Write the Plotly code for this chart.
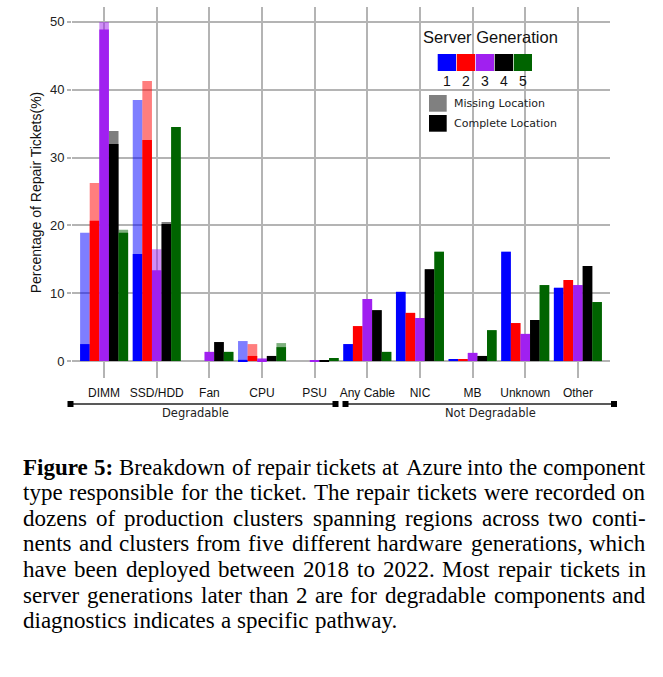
import plotly.graph_objects as go

# ---------------- data ----------------
categories = ["DIMM", "SSD/HDD", "Fan", "CPU", "PSU", "Any Cable", "NIC", "MB", "Unknown", "Other"]
generations = ["1", "2", "3", "4", "5"]
gen_colors = ["#0000ff", "#ff0000", "#a020f0", "#000000", "#006400"]

# total (missing + complete location) per category
gen1_total = [18.9, 38.5, 0.0, 2.95, 0.0, 2.5, 10.2, 0.3, 16.1, 10.8]
gen2_total = [26.25, 41.3, 0.0, 2.5, 0.0, 5.15, 7.1, 0.3, 5.6, 11.95]
gen3_total = [50.0, 16.5, 1.35, 0.45, 0.1, 9.15, 6.35, 1.2, 4.0, 11.2]
gen4_total = [33.9, 20.5, 2.8, 0.75, 0.15, 7.5, 13.55, 0.75, 6.05, 14.0]
gen5_total = [19.35, 34.5, 1.35, 2.65, 0.45, 1.35, 16.1, 4.55, 11.2, 8.7]

# complete location only
gen1_complete = [2.5, 15.8, 0.0, 0.18, 0.0, 2.5, 10.2, 0.3, 16.1, 10.8]
gen2_complete = [20.7, 32.6, 0.0, 0.75, 0.0, 5.15, 7.1, 0.3, 5.6, 11.95]
gen3_complete = [48.9, 13.4, 1.35, 0.28, 0.1, 9.15, 6.35, 1.2, 4.0, 11.2]
gen4_complete = [32.0, 20.2, 2.8, 0.75, 0.15, 7.5, 13.55, 0.75, 6.05, 14.0]
gen5_complete = [18.9, 34.5, 1.35, 2.05, 0.45, 1.35, 16.1, 4.55, 11.2, 8.7]

y_ticks = [0, 10, 20, 30, 40, 50]
y_title = "Percentage of Repair Tickets(%)"
legend_title = "Server Generation"
legend_missing = "Missing Location"
legend_complete = "Complete Location"
group_labels = ["Degradable", "Not Degradable"]

caption_lines = [
    [("Figure", True), ("5:", True), ("Breakdown", False), ("of", False), ("repair", False),
     ("tickets", False), ("at", False), ("Azure", False), ("into", False), ("the", False),
     ("component", False)],
    "type responsible for the ticket. The repair tickets were recorded on",
    "dozens of production clusters spanning regions across two conti-",
    "nents and clusters from five different hardware generations, which",
    "have been deployed between 2018 to 2022. Most repair tickets in",
    "server generations later than 2 are for degradable components and",
    "diagnostics indicates a specific pathway.",
]

totals = [gen1_total, gen2_total, gen3_total, gen4_total, gen5_total]
completes = [gen1_complete, gen2_complete, gen3_complete, gen4_complete, gen5_complete]

# ---------------- figure ----------------
W, H = 663, 677
L, R, T, B = 72, 610, 7, 378  # plot area in pixels

def px(x):
    return (x - L) / (R - L)

def py(y):
    return (B - y) / (B - T)

fig = go.Figure()
for g, col, tot in zip(generations, gen_colors, totals):
    fig.add_trace(go.Bar(x=categories, y=tot, name="Gen " + g + " missing", offsetgroup=g,
                         marker=dict(color=col, line=dict(width=0)), opacity=0.5))
for g, col, comp in zip(generations, gen_colors, completes):
    fig.add_trace(go.Bar(x=categories, y=comp, name="Gen " + g + " complete", offsetgroup=g,
                         marker=dict(color=col, line=dict(width=0)), opacity=1.0))

grid = "#b4b4b4"
fig.update_layout(
    width=W, height=H,
    margin=dict(l=L, r=W - R, t=T, b=H - B),
    paper_bgcolor="white", plot_bgcolor="white",
    barmode="group", bargap=0.088, bargroupgap=0,
    showlegend=False,
    font=dict(family="Liberation Sans, Arial, sans-serif", color="#222"),
)
fig.update_xaxes(type="category", range=[-0.61, 9.61], showgrid=True, gridcolor=grid, gridwidth=1.5,
                 ticks="", showline=False, zeroline=False, tickfont=dict(size=12, color="#111"),
                 ticklabelstandoff=6)
fig.update_yaxes(range=[-2.5, 52.2], tickvals=y_ticks, showgrid=True, gridcolor=grid, gridwidth=1.5,
                 ticks="outside", ticklen=4, tickcolor=grid, tickwidth=1.5, showline=False,
                 zeroline=False, tickfont=dict(size=13, color="#222"),
                 title=dict(text=y_title, font=dict(size=14, color="#111"), standoff=5))

shapes = []
annotations = []

# legend: server generation colour swatches
annotations.append(dict(x=px(490), y=py(37), xref="paper", yref="paper", text=legend_title,
                        showarrow=False, xanchor="center", yanchor="middle",
                        font=dict(size=16.5, color="#111", family="Liberation Sans, Arial")))
for i, (g, col) in enumerate(zip(generations, gen_colors)):
    x0 = 437.7 + 19 * i
    shapes.append(dict(type="rect", xref="paper", yref="paper", x0=px(x0), x1=px(x0 + 18.3),
                       y0=py(71), y1=py(54), fillcolor=col, line=dict(width=0)))
    annotations.append(dict(x=px(x0 + 9.2), y=py(81), xref="paper", yref="paper", text=g,
                            showarrow=False, xanchor="center", yanchor="middle",
                            font=dict(size=14, color="#111", family="Liberation Sans, Arial")))
# missing / complete swatches
for (y0, y1, col, txt) in [(95, 111.7, "#808080", legend_missing), (115, 131.7, "#000000", legend_complete)]:
    shapes.append(dict(type="rect", xref="paper", yref="paper", x0=px(429), x1=px(446.7),
                       y0=py(y1), y1=py(y0), fillcolor=col, line=dict(width=0)))
    annotations.append(dict(x=px(452), y=py((y0 + y1) / 2), xref="paper", yref="paper", text=txt,
                            showarrow=False, xanchor="left", yanchor="middle",
                            font=dict(size=11, color="#222", family="DejaVu Sans, Verdana")))

# group brackets
for (xa, xb, lab, xc) in [(70.5, 335.5, group_labels[0], 195), (345.5, 614, group_labels[1], 490)]:
    shapes.append(dict(type="line", xref="paper", yref="paper", x0=px(xa), x1=px(xb),
                       y0=py(404), y1=py(404), line=dict(color="#222", width=1.5)))
    for xs in (xa, xb):
        shapes.append(dict(type="rect", xref="paper", yref="paper", x0=px(xs - 3), x1=px(xs + 3),
                           y0=py(407), y1=py(401), fillcolor="#000", line=dict(width=0)))
    annotations.append(dict(x=px(xc), y=py(413), xref="paper", yref="paper", text=lab,
                            showarrow=False, xanchor="center", yanchor="middle",
                            font=dict(size=11.5, color="#222", family="DejaVu Sans, Verdana")))

# caption with justified lines (Times metrics)
TIMES = dict(a=444, b=500, c=444, d=500, e=444, f=333, g=500, h=500, i=278, j=278, k=500, l=278,
             m=778, n=500, o=500, p=500, q=500, r=333, s=389, t=278, u=500, v=500, w=722, x=500,
             y=500, z=444, A=722, B=667, F=556, M=889, T=611)
TIMES.update({".": 250, ",": 250, ":": 278, "-": 333})
TIMES_B = dict(F=611, i=278, g=500, u=556, r=444, e=444)
TIMES_B.update({":": 333})

FS = 23
LEFT, RIGHT = 23, 646
Y0, LH = 467, 25.6
SCALE = 1.006

def wwidth(word, bold):
    tab = TIMES_B if bold else TIMES
    return sum(tab.get(ch, TIMES.get(ch, 500)) for ch in word) * FS / 1000.0 * SCALE

for li, line in enumerate(caption_lines):
    words = line if isinstance(line, list) else [(w, False) for w in line.split(" ")]
    widths = [wwidth(w, b) for w, b in words]
    last = li == len(caption_lines) - 1
    n = len(words)
    if last:
        gap = 250 * FS / 1000.0
    else:
        gap = (RIGHT - LEFT - sum(widths)) / (n - 1)
    yc = Y0 + LH * li
    for k, ((w, b), wd) in enumerate(zip(words, widths)):
        if last or k < n / 2.0:
            xpos = LEFT + sum(widths[:k]) + gap * k
            anchor = "left"
        else:
            xpos = RIGHT - sum(widths[k + 1:]) - gap * (n - 1 - k)
            anchor = "right"
        annotations.append(dict(x=px(xpos), y=py(yc), xref="paper", yref="paper",
                                text=("<b>%s</b>" % w) if b else w, showarrow=False,
                                xanchor=anchor, yanchor="middle", borderpad=0, borderwidth=0,
                                font=dict(size=FS, color="#000", family="Liberation Serif, Times New Roman")))

fig.update_layout(shapes=shapes, annotations=annotations)
fig.write_html("out.html", config={"displayModeBar": False},
               post_script="document.body.style.margin='0px';")
